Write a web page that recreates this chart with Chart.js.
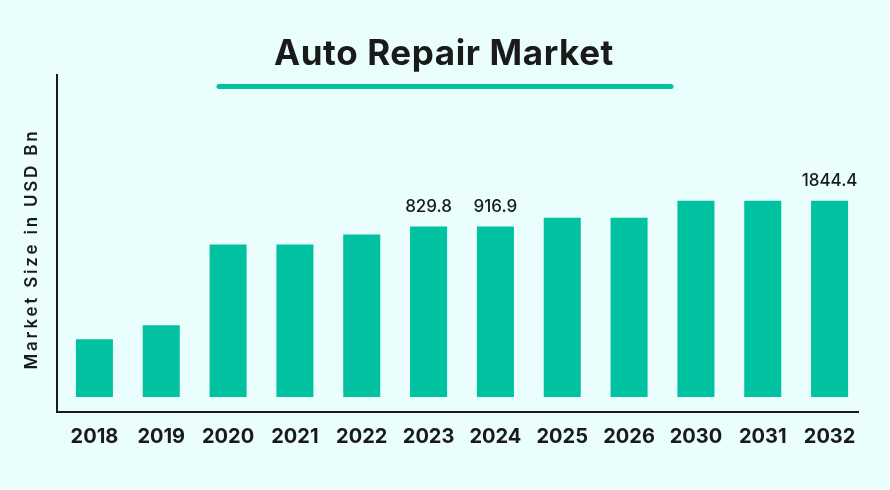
<!DOCTYPE html>
<html>
<head>
<meta charset="utf-8">
<script src="https://cdn.jsdelivr.net/npm/chart.js@4.4.1/dist/chart.umd.min.js"></script>
<style>
  html, body { margin: 0; padding: 0; background: #eafffd; }
  #wrap { width: 890px; height: 490px; position: relative; }
</style>
</head>
<body>
<div id="wrap"><canvas id="c" width="890" height="490"></canvas></div>
<script>
const years = ["2018","2019","2020","2021","2022","2023","2024","2025","2026","2030","2031","2032"];
// bar heights as drawn (estimated on the scale of the labelled 2032 bar)
const marketSize = [543, 674, 1432, 1432, 1526, 1601, 1601, 1685, 1685, 1844.4, 1844.4, 1844.4];
// value labels shown above selected bars
const valueLabels = ["", "", "", "", "", "829.8", "916.9", "", "", "", "", "1844.4"];
const chartTitle = "Auto Repair Market";
const yAxisTitle = "Market Size in USD Bn";

const INK = "#1a1a1a";
const TEAL = "#00c2a0";

const decor = {
  id: "decor",
  beforeDraw(chart) {
    const ctx = chart.ctx;
    ctx.save();
    ctx.fillStyle = "#eafffd";
    ctx.fillRect(0, 0, chart.width, chart.height);
    ctx.restore();
  },
  afterDraw(chart) {
    const ctx = chart.ctx;
    const a = chart.chartArea;
    ctx.save();
    // title
    ctx.fillStyle = INK;
    ctx.font = "700 35px Inter";
    ctx.letterSpacing = "0.6px";
    ctx.textAlign = "center";
    ctx.textBaseline = "alphabetic";
    ctx.fillText(chartTitle, 444, 65);
    ctx.letterSpacing = "0px";
    // underline
    ctx.strokeStyle = TEAL;
    ctx.lineWidth = 5;
    ctx.lineCap = "round";
    ctx.beginPath();
    ctx.moveTo(219, 86.5);
    ctx.lineTo(671, 86.5);
    ctx.stroke();
    // axes
    ctx.strokeStyle = INK;
    ctx.lineWidth = 2;
    ctx.lineCap = "butt";
    ctx.beginPath();
    ctx.moveTo(a.left - 4, a.top);
    ctx.lineTo(a.left - 4, a.bottom);
    ctx.lineTo(a.right - 4, a.bottom);
    ctx.stroke();
    // y axis title
    ctx.save();
    ctx.translate(32, 249);
    ctx.rotate(-Math.PI / 2);
    ctx.font = "600 17px Inter";
    ctx.letterSpacing = "2.8px";
    ctx.textAlign = "center";
    ctx.textBaseline = "middle";
    ctx.fillStyle = INK;
    ctx.fillText(yAxisTitle, 0, 0);
    ctx.restore();
    // value labels
    const meta = chart.getDatasetMeta(0);
    ctx.font = "500 17px Inter";
    ctx.textAlign = "center";
    ctx.textBaseline = "bottom";
    ctx.fillStyle = INK;
    meta.data.forEach((bar, i) => {
      if (valueLabels[i]) ctx.fillText(valueLabels[i], bar.x, bar.y - 11);
    });
    ctx.restore();
  }
};

new Chart(document.getElementById("c"), {
  type: "bar",
  data: {
    labels: years,
    datasets: [{
      data: marketSize,
      backgroundColor: TEAL,
      borderWidth: 0,
      barPercentage: 1,
      categoryPercentage: 0.554
    }]
  },
  options: {
    responsive: false,
    animation: false,
    devicePixelRatio: 1,
    layout: { padding: { left: 61, right: 27, top: 74, bottom: 28 } },
    plugins: { legend: { display: false }, tooltip: { enabled: false }, title: { display: false } },
    scales: {
      x: {
        grid: { display: false, drawTicks: false },
        border: { display: false },
        ticks: { color: INK, font: { family: "Inter", size: 20, weight: "700" }, padding: 13, maxRotation: 0, autoSkip: false }
      },
      y: {
        display: false,
        min: -140,
        max: 3034
      }
    }
  },
  plugins: [decor]
});
</script>
</body>
</html>
